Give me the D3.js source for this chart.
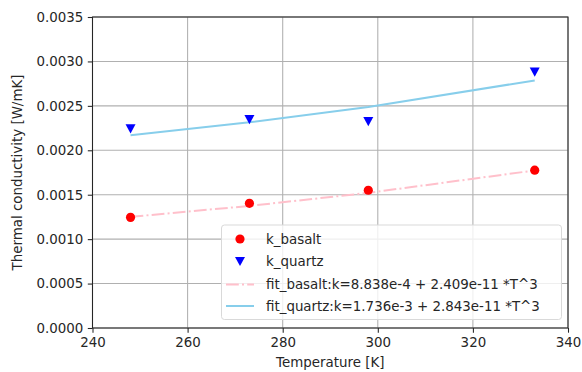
<!DOCTYPE html>
<html><head><meta charset="utf-8">
<script src="https://cdn.jsdelivr.net/npm/d3@7"></script>
<style>
body{margin:0;background:#fff;}
text{font-family:"DejaVu Sans",sans-serif;fill:#262626;}
</style></head>
<body><svg id="c" width="582" height="372"></svg>
<script>
const temps = [248, 273, 298, 333];
const kBasalt = [0.001245, 0.001403, 0.001550, 0.001776];
const kQuartz = [0.002240, 0.002345, 0.002322, 0.002880];
const fitBasalt = [0.001251, 0.001374, 0.001521, 0.001773];
const fitQuartz = [0.002170, 0.002315, 0.002488, 0.002786];
const xTicks = [240, 260, 280, 300, 320, 340];
const yTicks = [0, 0.0005, 0.0010, 0.0015, 0.0020, 0.0025, 0.0030, 0.0035];
const legendLabels = ["k_basalt", "k_quartz", "fit_basalt:k=8.838e-4 + 2.409e-11 *T^3", "fit_quartz:k=1.736e-3 + 2.843e-11 *T^3"];

const L = 92.5, R = 568, T = 17, B = 328;
const svg = d3.select("#c");
const x = d3.scaleLinear().domain([240, 340]).range([L, R]);
const y = d3.scaleLinear().domain([0, 0.0035]).range([B, T]);
const fs = "13.4px";
const triPath = "M-5,-4.6L5,-4.6L0,4.6Z";

// grid
svg.append("g").selectAll("line").data(xTicks).join("line")
  .attr("x1", d => x(d)).attr("x2", d => x(d)).attr("y1", T).attr("y2", B)
  .attr("stroke", "#b0b0b0").attr("stroke-width", 1.07);
svg.append("g").selectAll("line").data(yTicks).join("line")
  .attr("x1", L).attr("x2", R).attr("y1", d => y(d)).attr("y2", d => y(d))
  .attr("stroke", "#b0b0b0").attr("stroke-width", 1.07);

// fit lines
const line = d3.line().x((d, i) => x(temps[i])).y(d => y(d));
svg.append("path").datum(fitBasalt).attr("d", line).attr("fill", "none")
  .attr("stroke", "pink").attr("stroke-width", 2).attr("stroke-dasharray", "12.8,3.2,2,3.2");
svg.append("path").datum(fitQuartz).attr("d", line).attr("fill", "none")
  .attr("stroke", "skyblue").attr("stroke-width", 2);

// markers
svg.append("g").selectAll("circle").data(kBasalt).join("circle")
  .attr("cx", (d, i) => x(temps[i])).attr("cy", d => y(d)).attr("r", 4.6).attr("fill", "red");
svg.append("g").selectAll("path").data(kQuartz).join("path")
  .attr("d", triPath).attr("transform", (d, i) => `translate(${x(temps[i])},${y(d)})`)
  .attr("fill", "blue");

// axes
const xa = svg.append("g").attr("transform", `translate(0,${B})`)
  .call(d3.axisBottom(x).tickValues(xTicks).tickSize(4.7).tickPadding(4.5).tickFormat(d3.format("d")));
const ya = svg.append("g").attr("transform", `translate(${L},0)`)
  .call(d3.axisLeft(y).tickValues(yTicks).tickSize(4.7).tickPadding(4.5).tickFormat(d3.format(".4f")));
[xa, ya].forEach(a => {
  a.select(".domain").remove();
  a.selectAll("line").attr("stroke", "#262626").attr("stroke-width", 1.07);
  a.selectAll("text").style("font-size", fs).attr("fill", "#262626").style("font-family", "DejaVu Sans");
});
svg.append("rect").attr("x", L).attr("y", T).attr("width", R - L).attr("height", B - T)
  .attr("fill", "none").attr("stroke", "#262626").attr("stroke-width", 1.07);

// axis labels
svg.append("text").attr("x", (L + R) / 2).attr("y", 367).attr("text-anchor", "middle")
  .style("font-size", fs).text("Temperature [K]");
svg.append("text").attr("transform", `translate(22,${(T + B) / 2}) rotate(-90)`).attr("text-anchor", "middle")
  .style("font-size", fs).text("Thermal conductivity [W/mK]");

// legend
const lg = svg.append("g");
lg.append("rect").attr("x", 221.5).attr("y", 225).attr("width", 340).attr("height", 94.5).attr("rx", 3)
  .attr("fill", "#fff").attr("fill-opacity", 0.8).attr("stroke", "#d9d9d9").attr("stroke-width", 1);
const rowY = [239, 261.5, 284.5, 306];
lg.append("circle").attr("cx", 240).attr("cy", rowY[0]).attr("r", 4.6).attr("fill", "red");
lg.append("path").attr("d", triPath).attr("transform", `translate(240,${rowY[1]})`).attr("fill", "blue");
lg.append("line").attr("x1", 226).attr("x2", 254).attr("y1", rowY[2]).attr("y2", rowY[2])
  .attr("stroke", "pink").attr("stroke-width", 2).attr("stroke-dasharray", "12.8,3.2,2,3.2");
lg.append("line").attr("x1", 226).attr("x2", 254).attr("y1", rowY[3]).attr("y2", rowY[3])
  .attr("stroke", "skyblue").attr("stroke-width", 2);
lg.selectAll("text.l").data(legendLabels).join("text").attr("class", "l")
  .attr("x", 266).attr("y", (d, i) => rowY[i]).attr("dy", "0.35em")
  .style("font-size", fs).text(d => d);
</script></body></html>
